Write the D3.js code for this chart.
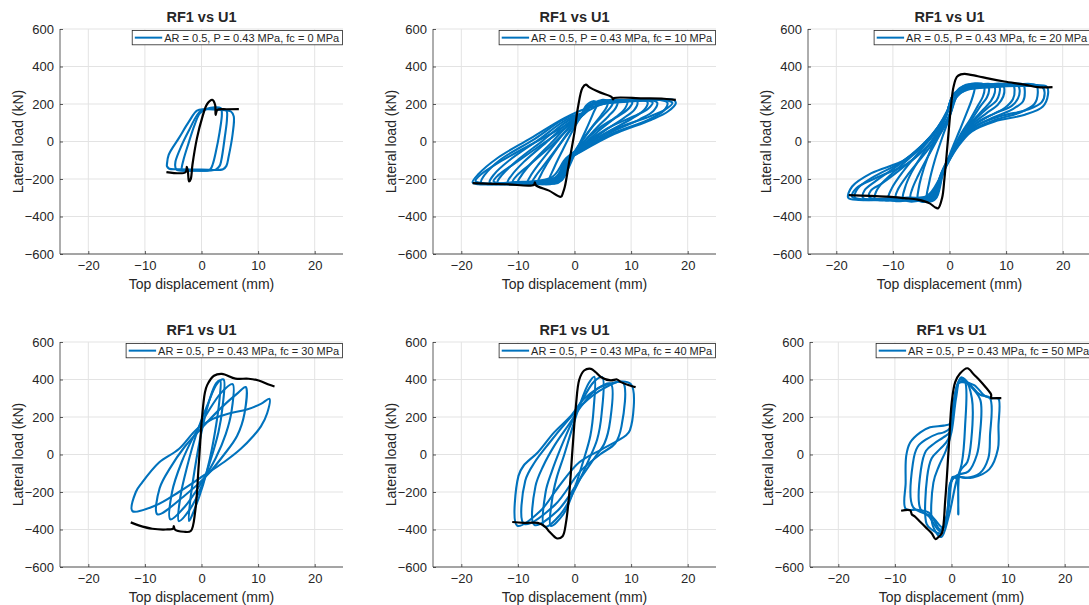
<!DOCTYPE html>
<html>
<head>
<meta charset="utf-8">
<script src="https://cdn.jsdelivr.net/npm/d3@7"></script>
<style>
  body { margin: 0; background: #fff; }
  svg { display: block; }
  text { font-family: "Liberation Sans", Arial, Helvetica, sans-serif; fill: #262626; }
</style>
</head>
<body>
<svg id="fig" width="1089" height="605"></svg>
<script>
// ---- axis settings -------------------------------------------------------
const xTicks = [-20, -10, 0, 10, 20];
const yTicks = [-600, -400, -200, 0, 200, 400, 600];
const xDomain = [-25, 25];
const yDomain = [-600, 600];
const titleText = "RF1 vs U1";
const xLabelText = "Top displacement (mm)";
const yLabelText = "Lateral load (kN)";
const legendLabels = [
  "AR = 0.5, P = 0.43 MPa, fc = 0 MPa",
  "AR = 0.5, P = 0.43 MPa, fc = 10 MPa",
  "AR = 0.5, P = 0.43 MPa, fc = 20 MPa",
  "AR = 0.5, P = 0.43 MPa, fc = 30 MPa",
  "AR = 0.5, P = 0.43 MPa, fc = 40 MPa",
  "AR = 0.5, P = 0.43 MPa, fc = 50 MPa"
];

// ---- cyclic response (blue): closed loops of [displacement mm, load kN] ----
const loopsFc0 = [
  [[-6.1,-120],[-5.8,-71],[-4,18],[-2.2,107],[-0.8,165],[0.5,172],[3,170],[5.2,160],[5.7,134],[5.5,40],[4.8,-80],[4.4,-130],[3.8,-148],[0,-150],[-4,-148],[-5.7,-145],[-6.1,-132]],
  [[-4.6,-140],[-4.6,-107],[-3.5,-20],[-2.2,60],[-0.8,140],[0,165],[3,175],[4.4,165],[4.5,120],[4.1,20],[3.5,-100],[3.2,-130],[2.5,-150],[-2,-155],[-4.3,-152]],
  [[-3.5,-150],[-3.2,-100],[-2.3,-10],[-1.2,90],[-0.3,150],[1,175],[3.4,178],[3.6,150],[3.2,50],[2.5,-60],[2.0,-120],[1.5,-150],[-1,-155],[-3.3,-155]]
];
const loopsFc10 = [
  [[-18,-218],[-17,-228],[-12,-224],[-7,-216],[-3,-185],[-1.8,-110],[1.1,-55],[7,40],[13.5,115],[16.5,160],[17.9,205],[17.5,222],[12,220],[6,205],[2,175],[-1.8,125],[-7.7,18],[-13.6,-88],[-17,-175]],
  [[-17.5,-210],[-16.5,-222],[-11,-218],[-4,-190],[-1.5,-90],[1.5,-25],[7,65],[13,130],[16,170],[17.3,205],[16.5,218],[11,216],[5,200],[2.2,160],[-1,95],[-7,-5],[-13,-105],[-16.5,-175]],
  [[-16.5,-218],[-15,-228],[-10,-222],[-3,-190],[-1.8,-112],[1,-54],[6.5,40],[13,115],[15.8,165],[16.4,208],[15,222],[9,215],[3,202],[1.9,160],[-1.7,122],[-7,14],[-13,-95],[-15.8,-175]],
  [[-15,-218],[-13.5,-228],[-8,-220],[-3,-195],[-1.8,-118],[1,-52],[6,42],[11.5,118],[14,165],[14.6,208],[13.2,222],[8,214],[3,200],[1.9,158],[-1.5,115],[-6.3,10],[-11.5,-100],[-14.2,-175]],
  [[-14.3,-212],[-13,-224],[-8,-218],[-3.5,-195],[-1.4,-100],[1.2,-25],[5.8,70],[10.5,135],[13,175],[13.8,208],[12.6,219],[8,210],[3,196],[2,155],[-0.8,90],[-5.5,-10],[-10.5,-115],[-13.4,-178]],
  [[-13.6,-218],[-12,-228],[-7,-220],[-3,-198],[-1.8,-122],[0.8,-50],[5.5,45],[10,120],[12.3,168],[12.9,210],[11.5,222],[7,212],[3,198],[1.8,156],[-1.3,108],[-5.6,5],[-10.3,-105],[-12.8,-178]],
  [[-11.8,-218],[-10.3,-228],[-6,-220],[-3,-200],[-1.8,-128],[0.6,-50],[5,50],[8.7,125],[10.6,170],[11.1,212],[9.8,222],[6,210],[3,196],[1.8,154],[-1.1,100],[-5,-5],[-9,-110],[-11.1,-180]],
  [[-10.9,-214],[-9.5,-224],[-6,-218],[-3,-200],[-1.3,-110],[0.8,-30],[4.5,75],[8,140],[9.7,180],[10.2,210],[9,219],[5.5,205],[2.7,190],[1.7,150],[-0.6,82],[-4,-20],[-8,-125],[-10.2,-182]],
  [[-10,-220],[-8.6,-228],[-5.5,-222],[-3,-205],[-1.7,-135],[0.4,-52],[4.2,55],[7.3,130],[8.9,175],[9.3,214],[8.1,222],[5,208],[2.8,194],[1.7,152],[-0.9,92],[-4.2,-10],[-7.6,-115],[-9.4,-182]],
  [[-8.3,-220],[-7,-228],[-4.5,-222],[-2.6,-205],[-1.6,-145],[0.2,-55],[3.5,60],[6,135],[7.3,180],[7.6,215],[6.5,222],[4.2,206],[2.6,192],[1.6,150],[-0.7,85],[-3.5,-15],[-6.3,-120],[-7.8,-185]],
  [[-7.4,-215],[-6.2,-224],[-4,-218],[-2.5,-200],[-1.2,-125],[0.4,-35],[3.2,80],[5.4,150],[6.5,188],[6.8,212],[5.8,219],[3.8,202],[2.4,186],[1.5,145],[-0.4,72],[-3,-30],[-5.5,-130],[-6.9,-186]],
  [[-6.5,-220],[-5.5,-228],[-3.5,-222],[-2.3,-205],[-1.4,-150],[0,-60],[2.8,65],[4.7,140],[5.7,185],[5.9,215],[5,222],[3.4,205],[2.3,190],[1.5,148],[-0.5,75],[-2.8,-25],[-5,-125],[-6.1,-188]],
  [[-4.5,-215],[-3.5,-225],[-2.2,-205],[-1.2,-150],[0,-70],[2,60],[3.3,150],[4,205],[3.3,215],[2,190],[1.2,140],[-0.3,60],[-2,-40],[-3.6,-140]]
];
const loopsFc20 = [
  [[-17.9,-300],[-16,-312],[-10,-306],[-4,-300],[-2.2,-230],[-0.3,-115],[1.5,-27],[3.9,53],[8,107],[13.3,143],[16.5,187],[17.4,250],[17.2,292],[14,300],[8,292],[3,282],[0.9,258],[-0.3,169],[-2,80],[-4.4,-9],[-7.9,-98],[-13.8,-169],[-17.2,-240]],
  [[-17.2,-295],[-15.5,-308],[-9.5,-300],[-4,-290],[-1.8,-200],[0.2,-80],[2.2,10],[4.8,85],[9,135],[13.8,170],[16.3,210],[16.8,262],[16.4,290],[13,296],[7.5,290],[3.2,276],[1.4,245],[0.2,150],[-1.5,60],[-4,-30],[-7.5,-120],[-13,-195],[-16.5,-250]],
  [[-16.7,-300],[-15,-312],[-9,-305],[-3.5,-300],[-2,-220],[-0.2,-110],[1.5,-20],[4,60],[8,115],[12.5,155],[15,200],[15.6,260],[15.3,300],[12,305],[7,295],[3,285],[0.8,255],[-0.4,160],[-2.2,70],[-4.8,-20],[-8.5,-110],[-13.5,-190],[-16.2,-250]],
  [[-15.3,-300],[-13.5,-312],[-8,-305],[-3.2,-300],[-1.9,-210],[-0.1,-100],[1.6,-10],[4,70],[7.5,125],[11,170],[13,215],[13.3,270],[13,305],[10,305],[6,295],[2.8,285],[0.7,250],[-0.5,150],[-2.4,60],[-5.2,-30],[-9,-125],[-13,-210],[-15,-260]],
  [[-14.2,-296],[-12.5,-308],[-7.5,-300],[-3.2,-288],[-1.4,-180],[0.4,-70],[2.3,20],[4.8,100],[8,150],[11,190],[12.1,230],[12.4,272],[12.1,298],[9,300],[5.5,290],[2.8,275],[1.2,235],[0,140],[-1.8,45],[-4.8,-50],[-8.5,-145],[-12,-225],[-13.9,-262]],
  [[-13.2,-305],[-11.5,-315],[-7,-305],[-3,-300],[-1.8,-200],[0,-90],[1.7,0],[4,80],[7,135],[9.8,180],[11.2,225],[11.5,275],[11.2,305],[8.5,305],[5,295],[2.5,285],[0.6,245],[-0.6,140],[-2.6,50],[-5.5,-45],[-9,-140],[-12,-225],[-13,-270]],
  [[-10.8,-305],[-9.5,-318],[-6,-310],[-2.8,-300],[-1.7,-190],[0.1,-80],[1.8,10],[4,90],[6.5,150],[8.5,195],[9.5,240],[9.7,280],[9.4,305],[7,305],[4.5,298],[2.3,285],[0.5,240],[-0.7,130],[-2.7,40],[-5.5,-60],[-8.2,-160],[-10.2,-250]],
  [[-9.5,-298],[-8.3,-312],[-5.2,-304],[-2.5,-290],[-1.2,-170],[0.5,-60],[2.3,30],[4.5,115],[6.6,175],[8.3,218],[8.8,255],[8.9,285],[8.5,300],[6.5,300],[4.2,292],[2.4,280],[1,230],[-0.2,120],[-2,30],[-4.5,-70],[-7.2,-170],[-9.1,-255]],
  [[-8.2,-305],[-7,-320],[-4.5,-312],[-2.6,-300],[-1.6,-180],[0.2,-70],[1.9,20],[3.8,100],[5.8,165],[7.3,215],[8,260],[8,290],[7.5,305],[5.5,305],[3.5,298],[2,285],[0.4,230],[-0.8,120],[-2.6,30],[-4.8,-70],[-6.8,-170],[-7.9,-250]],
  [[-6.9,-300],[-6,-316],[-4,-308],[-2.4,-292],[-1.2,-160],[0.6,-50],[2.3,40],[4,120],[5.5,190],[6.6,235],[7,275],[6.8,300],[5.2,305],[3.4,296],[2.1,282],[0.8,225],[-0.4,110],[-2,20],[-3.8,-80],[-5.6,-185],[-6.6,-255]],
  [[-5.6,-305],[-4.8,-322],[-3.5,-315],[-2.4,-300],[-1.4,-170],[0.3,-60],[2,40],[3.7,120],[5,190],[5.9,240],[6.2,280],[6,305],[4.5,310],[3,300],[1.8,285],[0.3,220],[-0.9,110],[-2.4,20],[-3.8,-80],[-5,-190],[-5.5,-260]],
  [[-4.0,-310],[-3.3,-320],[-2.3,-300],[-1.2,-180],[0.3,-50],[1.8,60],[3,150],[4,230],[4.4,290],[3.6,305],[2.4,295],[1.2,250],[0,130],[-1.3,20],[-2.6,-100],[-3.6,-220]]
];
const loopsFc30 = [
  [[-2.2,-355],[-2.0,-250],[-1.2,-80],[0,120],[1.5,300],[2.6,380],[3.3,395],[3.2,300],[2.6,160],[1.5,-20],[0.3,-160],[-1.2,-290]],
  [[-4.0,-355],[-3.7,-220],[-2.5,-60],[-1,100],[1,260],[2.8,380],[3.9,400],[3.7,250],[3.0,120],[1.5,-40],[0,-170],[-2,-290]],
  [[-5.5,-346],[-5.2,-200],[-3.5,-40],[-1.5,90],[1,220],[3.5,330],[5.5,375],[5.3,230],[4.3,110],[2.5,-20],[0,-150],[-3,-280]],
  [[-7.8,-319],[-7.4,-180],[-5.5,-70],[-3,40],[0,140],[3.5,250],[6.5,330],[7.8,360],[7.6,220],[6.3,100],[4,0],[1,-110],[-3,-220]],
  [[-12.2,-302],[-11.6,-200],[-10.5,-150],[-7.5,-43],[-4,29],[-0.8,136],[2,190],[5,220],[8,240],[10.5,270],[12,297],[11.6,220],[10.5,150],[9.2,100],[6.9,29],[4,-40],[0,-120],[-4,-200],[-8,-270]]
];
const loopsFc40 = [
  [[-4.2,-380],[-4.0,-250],[-3.2,-130],[-1.8,0],[-0.5,130],[1,270],[2.5,380],[3.5,415],[3.4,250],[2.8,100],[1.5,-40],[0,-180],[-2,-320]],
  [[-5.3,-385],[-5.1,-200],[-4,-90],[-2.5,30],[-0.8,150],[1.2,280],[3.5,390],[4.9,412],[4.8,220],[4,80],[2.5,-30],[0.5,-160],[-2.5,-320]],
  [[-7.1,-375],[-6.9,-170],[-5.5,-60],[-3.5,50],[-1,160],[1.5,270],[4,350],[6.4,377],[6.3,180],[5.3,60],[3.5,-20],[1,-130],[-3,-300]],
  [[-8.9,-370],[-8.7,-140],[-7,-40],[-4.5,60],[-1.5,170],[1.5,270],[5,350],[8.5,386],[8.3,150],[7.2,60],[4.5,0],[1,-90],[-3.5,-270]],
  [[-10.1,-380],[-9.9,-114],[-9,-60],[-6.5,11],[-3.6,118],[-0.6,207],[1.7,297],[5.2,368],[9.9,377],[9.8,130],[9,100],[4.9,29],[0.8,-43],[-3,-180],[-6,-300]]
];
const loopsFc50 = [
  [[-8.1,-289],[-8.1,-150],[-8.0,-7],[-7.3,64],[-5.5,118],[-3.8,145],[-1.4,154],[-0.2,165],[0.5,280],[1.2,380],[2,385],[4,370],[6,310],[7.5,300],[8.3,297],[8.3,150],[8.2,29],[6.7,-78],[3.8,-123],[0.3,-125],[-0.5,-250],[-1.2,-380],[-2,-400],[-4,-310],[-6,-295]],
  [[-6.8,-280],[-6.8,-43],[-6,40],[-4.4,82],[-2.5,110],[-1.4,118],[-0.3,140],[0.5,290],[1.5,400],[3,380],[5,320],[6.8,300],[6.8,100],[6.5,-20],[5,-100],[2.5,-125],[0.4,-120],[-0.5,-280],[-1.5,-390],[-3.5,-330]],
  [[-5.5,-290],[-5.4,-80],[-4.5,20],[-3,60],[-1.5,90],[-0.3,120],[0.5,300],[1.8,410],[3.5,360],[5.1,290],[5.0,100],[4.5,0],[3,-90],[1,-110],[-0.2,-150],[-0.8,-320],[-2,-410],[-4,-330]],
  [[-4.4,-370],[-4.3,-120],[-3.5,-20],[-2,30],[-0.6,80],[0.3,220],[1.2,380],[2.5,390],[3.6,300],[3.5,80],[2.8,-40],[1.5,-90],[1.2,-320],[0.9,-130],[0.2,-120],[-0.8,-330],[-2,-420],[-3.5,-400]],
  [[-3.3,-380],[-3.2,-150],[-2.2,-60],[-1,20],[0,120],[0.8,300],[1.6,410],[2.4,390],[2.4,150],[1.8,-50],[0.8,-150],[-0.5,-330],[-1.8,-440]]
];

// ---- monotonic response (black): open curves of [displacement mm, load kN] ----
const envFc0 = [[-6.2,-163],[-2.8,-164],[-2.6,-135],[-2.4,-160],[-2.2,-213],[-1.9,-200],[-1.6,-124],[-0.8,18],[0.1,125],[1.0,200],[1.9,222],[2.4,196],[2.5,142],[2.8,169],[4.5,172],[6.6,173]];
const envFc10 = [[-18,-222],[-12,-228],[-7.2,-232],[-7.0,-218],[-6.8,-234],[-4.5,-262],[-2.4,-295],[-2.0,-270],[-1.7,-240],[-1,-120],[0,50],[0.6,180],[1.4,285],[2.0,303],[2.6,290],[4.5,262],[6.6,236],[6.8,224],[7.0,232],[12,230],[15.8,228],[17.9,222]];
const envFc20 = [[-17.8,-286],[-14,-290],[-10.8,-294],[-8,-302],[-5.6,-310],[-3.5,-330],[-2.6,-350],[-2.0,-356],[-1.3,-300],[-0.9,-200],[-0.3,0],[0.3,200],[0.7,290],[1.3,345],[2.0,358],[2.7,361],[5,348],[7,335],[9.7,320],[13.3,303],[15.6,290],[18.2,290]];
const envFc30 = [[-12.5,-362],[-11.1,-378],[-8.7,-396],[-6.3,-400],[-5.0,-395],[-4.9,-382],[-4.7,-400],[-3.1,-412],[-1.9,-408],[-1.1,-300],[-0.5,-60],[0.1,200],[0.6,330],[1.0,370],[2.2,420],[3.6,430],[6.0,405],[8.3,404],[10.1,395],[12.0,372],[12.9,363]];
const envFc40 = [[-11.0,-360],[-9,-365],[-6.5,-365],[-5.2,-385],[-4.5,-410],[-3.5,-440],[-3.0,-448],[-2.1,-436],[-1.5,-362],[-0.9,-200],[-0.35,30],[0.25,260],[0.85,400],[1.7,448],[2.9,457],[3.7,440],[4.7,412],[6.4,395],[7.5,400],[8.2,386],[10.2,364],[10.8,359]];
const envFc50 = [[-8.9,-300],[-7.3,-298],[-7.0,-320],[-6.5,-330],[-5.5,-360],[-4.5,-390],[-3.5,-420],[-2.8,-452],[-2.3,-440],[-1.7,-420],[-1.1,-240],[-0.5,30],[0.05,280],[0.65,386],[1.5,432],[2.8,460],[4,425],[5,395],[6,360],[7,320],[7.0,300],[7.3,300],[8.8,301]];

const loopSets = [loopsFc0, loopsFc10, loopsFc20, loopsFc30, loopsFc40, loopsFc50];
const envelopes = [envFc0, envFc10, envFc20, envFc30, envFc40, envFc50];

// ---- layout ----------------------------------------------------------------
const plotW = 283, plotH = 225;
const origins = [[60, 29], [433, 29], [808, 29], [60, 342], [433, 342], [810, 342]];
const blue = "#0072BD";

const svg = d3.select("#fig");

origins.forEach(([left, top], i) => {
  const g = svg.append("g").attr("transform", `translate(${left},${top})`);
  const x = d3.scaleLinear().domain(xDomain).range([0, plotW]);
  const y = d3.scaleLinear().domain(yDomain).range([plotH, 0]);

  // grid
  g.append("g").selectAll("line").data(xTicks).join("line")
    .attr("x1", d => x(d)).attr("x2", d => x(d))
    .attr("y1", 0).attr("y2", plotH)
    .attr("stroke", "#e3e3e3").attr("stroke-width", 1);
  g.append("g").selectAll("line").data(yTicks).join("line")
    .attr("x1", 0).attr("x2", plotW)
    .attr("y1", d => y(d)).attr("y2", d => y(d))
    .attr("stroke", "#e3e3e3").attr("stroke-width", 1);

  // cyclic loops
  const loopLine = d3.line()
    .x(d => x(d[0])).y(d => y(d[1]))
    .curve(d3.curveCatmullRomClosed.alpha(0.5));
  g.append("g").selectAll("path").data(loopSets[i]).join("path")
    .attr("d", loopLine)
    .attr("fill", "none").attr("stroke", blue)
    .attr("stroke-width", 2.1).attr("stroke-linejoin", "round");

  // monotonic curve
  const envLine = d3.line()
    .x(d => x(d[0])).y(d => y(d[1]))
    .curve(d3.curveCatmullRom.alpha(0.5));
  g.append("path").attr("d", envLine(envelopes[i]))
    .attr("fill", "none").attr("stroke", "#000")
    .attr("stroke-width", 2.2).attr("stroke-linejoin", "round");

  // axes
  const xAxis = d3.axisBottom(x).tickValues(xTicks).tickSize(-3).tickPadding(7);
  const yAxis = d3.axisLeft(y).tickValues(yTicks).tickSize(-3).tickPadding(6);
  const gx = g.append("g").attr("transform", `translate(0,${plotH})`).call(xAxis);
  const gy = g.append("g").call(yAxis);
  [gx, gy].forEach(a => {
    a.select(".domain").attr("stroke", "#333").attr("stroke-width", 0.8);
    a.selectAll(".tick line").attr("stroke", "#333").attr("stroke-width", 0.8);
    a.selectAll(".tick text").attr("font-size", 13).attr("fill", "#262626")
      .style("font-family", '"Liberation Sans", Arial, sans-serif');
  });
  gx.select(".domain").attr("d", `M0,0H${plotW}`);
  gy.select(".domain").attr("d", `M0,0V${plotH}`);

  // title and axis labels
  g.append("text").attr("x", plotW / 2).attr("y", -12).attr("dy", "0.35em")
    .attr("text-anchor", "middle").attr("font-size", 14.5).attr("font-weight", "bold")
    .attr("fill", "#000").text(titleText);
  g.append("text").attr("x", plotW / 2).attr("y", plotH + 30).attr("dy", "0.35em")
    .attr("text-anchor", "middle").attr("font-size", 14).text(xLabelText);
  g.append("text").attr("transform", `translate(-42,${plotH / 2}) rotate(-90)`)
    .attr("dy", "0.35em").attr("text-anchor", "middle").attr("font-size", 14).text(yLabelText);

  // legend
  const lg = g.append("g");
  const box = lg.append("rect").attr("fill", "#fff").attr("stroke", "#262626").attr("stroke-width", 0.8);
  const lt = lg.append("text").attr("font-size", 11).attr("dy", "0.35em").text(legendLabels[i]);
  const tw = lt.node().getComputedTextLength();
  const boxW = 2.6 + 27.4 + 2 + tw + 3.3;
  const boxR = plotW - 0.5;
  const boxL = boxR - boxW;
  const boxT = 1.5, boxH = 14.3;
  box.attr("x", boxL).attr("y", boxT).attr("width", boxW).attr("height", boxH);
  lg.append("line").attr("x1", boxL + 2.6).attr("x2", boxL + 30)
    .attr("y1", boxT + boxH / 2).attr("y2", boxT + boxH / 2)
    .attr("stroke", blue).attr("stroke-width", 2);
  lt.attr("x", boxL + 32).attr("y", boxT + boxH / 2 + 0.3);
});
</script>
</body>
</html>
